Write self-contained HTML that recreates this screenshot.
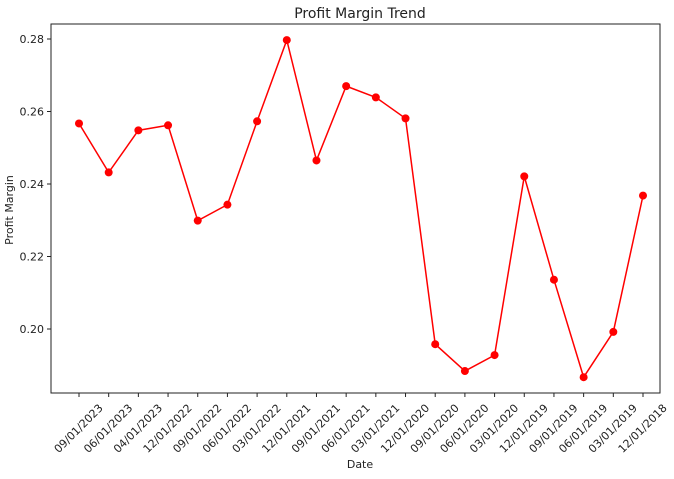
<!DOCTYPE html>
<html><head><meta charset="utf-8"><style>
body{margin:0;background:#fff;}
svg text{font-family:"DejaVu Sans","Liberation Sans",sans-serif;fill:#222;}
</style></head><body>
<svg id="c" width="674" height="474" xmlns="http://www.w3.org/2000/svg">
<text x="360" y="18" text-anchor="middle" font-size="14">Profit Margin Trend</text>
<text x="360" y="468" text-anchor="middle" font-size="11">Date</text>
<text transform="translate(13,210) rotate(-90)" text-anchor="middle" font-size="11">Profit Margin</text>
<g id="plot"></g>
</svg>
<script>
const categories=["09/01/2023","06/01/2023","04/01/2023","12/01/2022","09/01/2022","06/01/2022","03/01/2022","12/01/2021","09/01/2021","06/01/2021","03/01/2021","12/01/2020","09/01/2020","06/01/2020","03/01/2020","12/01/2019","09/01/2019","06/01/2019","03/01/2019","12/01/2018"];
const values=[0.2567,0.2432,0.2548,0.2562,0.2299,0.2343,0.2573,0.2797,0.2465,0.2670,0.2639,0.2581,0.1958,0.1884,0.1928,0.2421,0.2136,0.1867,0.1992,0.2368];
const yTicks=[0.20,0.22,0.24,0.26,0.28];
const NS="http://www.w3.org/2000/svg";
const L=51,R=660,T=24,B=393;
const x0=79,x1=643;
function xs(i){return x0+(x1-x0)*i/(categories.length-1);}
function ys(v){return 329-(v-0.20)*(329-39)/0.08;}
const g=document.getElementById('plot');
function mk(t,a){const e=document.createElementNS(NS,t);for(const k in a)e.setAttribute(k,a[k]);g.appendChild(e);return e;}
let e=mk('rect',{x:L,y:T,width:R-L,height:B-T,fill:'none',stroke:'#222','stroke-width':1});


yTicks.forEach(v=>{
 const y=ys(v);
 let t=mk('line',{x1:L-4,x2:L,y1:y,y2:y,stroke:'#222'});
 
 
 let s=mk('text',{x:L-7,y:y+4,'text-anchor':'end','font-size':11});
 s.textContent=v.toFixed(2);
 
 
});
categories.forEach((c,i)=>{
 const x=xs(i);
 let t=mk('line',{x1:x,x2:x,y1:B,y2:B+4,stroke:'#222'});
 
 
 let s=mk('text',{transform:`translate(${x},429) rotate(-45)`,'text-anchor':'middle','font-size':11,'dominant-baseline':'middle'});
 s.textContent=c;
 
 
});
let p=mk('polyline',{points:values.map((v,i)=>xs(i)+','+ys(v)).join(' '),fill:'none',stroke:'#f00','stroke-width':1.5});


values.forEach((v,i)=>{
 let c=mk('circle',{cx:xs(i),cy:ys(v),r:4,fill:'#f00'});
 
 
});
</script>
</body></html>
